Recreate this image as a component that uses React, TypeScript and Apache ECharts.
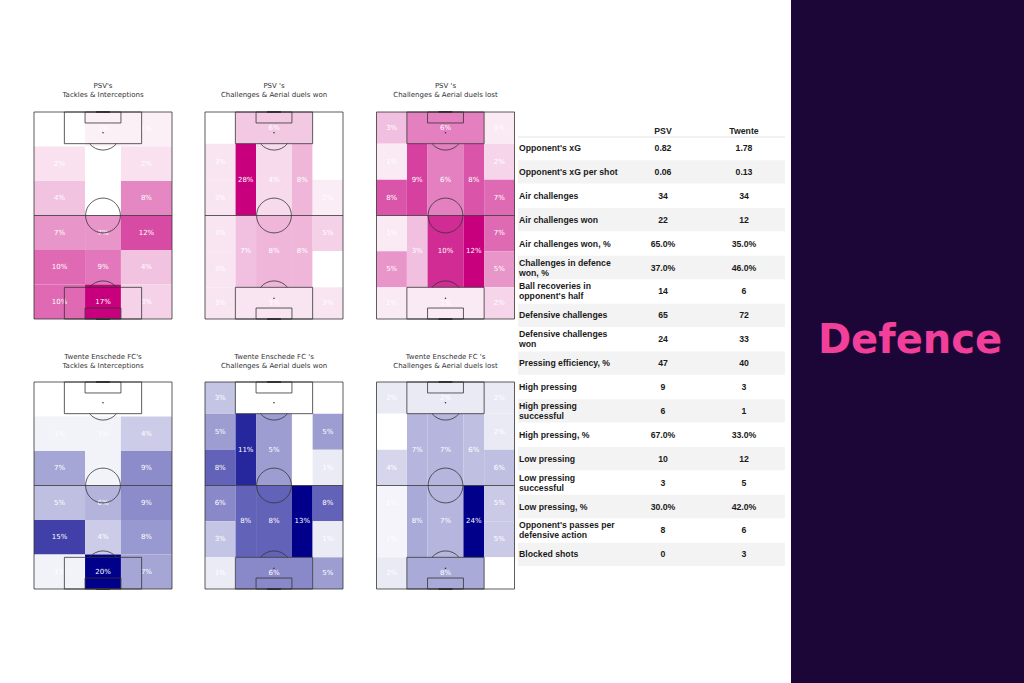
import React, { useEffect, useRef } from 'react';
import * as echarts from 'echarts';

// ---------- Data ----------
// 3x6 grids, row-major from the top of the pitch (left, centre, right)
const PSV_TACKLES = [0, 1, 1, 2, 0, 2, 4, 0, 8, 7, 7, 12, 10, 9, 4, 10, 17, 3];
const TWENTE_TACKLES = [0, 0, 0, 1, 1, 4, 7, 1, 9, 5, 6, 9, 15, 4, 8, 1, 20, 7];

// 20-zone grids: [topBox, bottomBox, upper L/C/R, lower L/C/R, left wing x6, right wing x6]
const PSV_WON = [6, 3, 28, 4, 8, 7, 8, 8, 0, 3, 3, 3, 3, 3, 0, 0, 2, 5, 0, 3];
const PSV_LOST = [6, 1, 9, 6, 8, 3, 10, 12, 3, 1, 8, 1, 5, 1, 1, 2, 7, 7, 5, 2];
const TWENTE_WON = [0, 6, 11, 5, 0, 8, 8, 13, 3, 5, 8, 6, 3, 1, 0, 5, 1, 8, 1, 5];
const TWENTE_LOST = [2, 8, 7, 7, 6, 8, 7, 24, 2, 0, 4, 1, 1, 2, 2, 2, 6, 5, 5, 0];

const PITCH_TITLES = [
  ["PSV's", 'Tackles & Interceptions'],
  ["PSV 's", 'Challenges & Aerial duels won'],
  ["PSV 's", 'Challenges & Aerial duels lost'],
  ["Twente Enschede FC's", 'Tackles & Interceptions'],
  ["Twente Enschede FC 's", 'Challenges & Aerial duels won'],
  ["Twente Enschede FC 's", 'Challenges & Aerial duels lost'],
];

const TABLE_HEADERS = ['PSV', 'Twente'];
const TABLE_LABELS = [
  "Opponent's xG",
  "Opponent's xG per shot",
  'Air challenges',
  'Air challenges won',
  'Air challenges won, %',
  'Challenges in defence\nwon, %',
  "Ball recoveries in\nopponent's half",
  'Defensive challenges',
  'Defensive challenges\nwon',
  'Pressing efficiency, %',
  'High pressing',
  'High pressing\nsuccessful',
  'High pressing, %',
  'Low pressing',
  'Low pressing\nsuccessful',
  'Low pressing, %',
  "Opponent's passes per\ndefensive action",
  'Blocked shots',
];
const PSV_STATS = ['0.82', '0.06', '34', '22', '65.0%', '37.0%', '14', '65', '24', '47', '9', '6', '67.0%', '10', '3', '30.0%', '8', '0'];
const TWENTE_STATS = ['1.78', '0.13', '34', '12', '35.0%', '46.0%', '6', '72', '33', '40', '3', '1', '33.0%', '12', '5', '42.0%', '6', '3'];

const PANEL_TITLE = 'Defence';

// ---------- Pitch geometry (0..100 across, 0..100 along) ----------
const G3X = [0, 37, 63, 100];
const G3Y = [0, 16.67, 33.33, 50, 66.67, 83.33, 100];
const X5 = [0, 22, 37, 63, 78, 100];
const WY = [0, 15.3, 32.7, 50, 67.3, 84.7, 100];

function zones3(): number[][] {
  const z: number[][] = [];
  for (let r = 0; r < 6; r++) for (let c = 0; c < 3; c++) z.push([G3X[c], G3X[c + 1], G3Y[r], G3Y[r + 1]]);
  return z;
}
function zones20(): number[][] {
  const z: number[][] = [];
  z.push([X5[1], X5[4], 0, WY[1]]);
  z.push([X5[1], X5[4], WY[5], 100]);
  for (let c = 1; c < 4; c++) z.push([X5[c], X5[c + 1], WY[1], 50]);
  for (let c = 1; c < 4; c++) z.push([X5[c], X5[c + 1], 50, WY[5]]);
  for (let r = 0; r < 6; r++) z.push([0, X5[1], WY[r], WY[r + 1]]);
  for (let r = 0; r < 6; r++) z.push([X5[4], 100, WY[r], WY[r + 1]]);
  return z;
}

const PSV_BASE = [200, 0, 126];
const TWENTE_BASE = [0, 0, 139];

function mix(base: number[], t: number) {
  const c = base.map((b) => Math.round(255 - (255 - b) * t));
  return `rgb(${c[0]},${c[1]},${c[2]})`;
}

const PITCHES = [
  { values: PSV_TACKLES, zones: zones3(), base: PSV_BASE },
  { values: PSV_WON, zones: zones20(), base: PSV_BASE },
  { values: PSV_LOST, zones: zones20(), base: PSV_BASE },
  { values: TWENTE_TACKLES, zones: zones3(), base: TWENTE_BASE },
  { values: TWENTE_WON, zones: zones20(), base: TWENTE_BASE },
  { values: TWENTE_LOST, zones: zones20(), base: TWENTE_BASE },
];

const GRID_LEFT = [34, 205, 376.5];
const GRID_TOP = [112, 382];
const GRID_W = 138;
const GRID_H = 207;

const LINE = '#333';
const FONT_SANS = '"DejaVu Sans", sans-serif';
const FONT_TABLE = 'bold 8.7px "Liberation Sans", Arial, sans-serif';

function pitchLinesRender(params: any, api: any) {
  const c = (x: number, y: number) => api.coord([x, y]);
  const seg = (a: number[], b: number[], w = 0.8) => ({
    type: 'line',
    shape: { x1: a[0], y1: a[1], x2: b[0], y2: b[1] },
    style: { stroke: LINE, lineWidth: w },
  });
  const rect = (x0: number, x1: number, y0: number, y1: number) => {
    const p0 = c(x0, y0);
    const p1 = c(x1, y1);
    return {
      type: 'rect',
      shape: { x: p0[0], y: p0[1], width: p1[0] - p0[0], height: p1[1] - p0[1] },
      style: { fill: 'none', stroke: LINE, lineWidth: 0.8 },
    };
  };
  const r = api.size([12.6, 0])[0];
  const center = c(50, 50);
  const spotTop = c(50, 10);
  const spotBot = c(50, 90);
  const boxTop = c(50, 15.3);
  const d = boxTop[1] - spotTop[1];
  const th = Math.acos(Math.min(1, d / r));
  const children: any[] = [
    rect(0, 100, 0, 100),
    seg(c(0, 50), c(100, 50)),
    rect(22, 78, 0, 15.3),
    rect(37, 63, 0, 5.3),
    rect(22, 78, 84.7, 100),
    rect(37, 63, 94.7, 100),
    { type: 'circle', shape: { cx: center[0], cy: center[1], r }, style: { fill: 'none', stroke: LINE, lineWidth: 0.8 } },
    {
      type: 'arc',
      shape: { cx: spotTop[0], cy: spotTop[1], r, startAngle: Math.PI / 2 - th, endAngle: Math.PI / 2 + th, clockwise: true },
      style: { fill: 'none', stroke: LINE, lineWidth: 0.8 },
    },
    {
      type: 'arc',
      shape: { cx: spotBot[0], cy: spotBot[1], r, startAngle: -Math.PI / 2 - th, endAngle: -Math.PI / 2 + th, clockwise: true },
      style: { fill: 'none', stroke: LINE, lineWidth: 0.8 },
    },
    { type: 'circle', shape: { cx: spotTop[0], cy: spotTop[1], r: 0.7 }, style: { fill: LINE } },
    { type: 'circle', shape: { cx: spotBot[0], cy: spotBot[1], r: 0.7 }, style: { fill: LINE } },
    seg(c(45, 0), c(55, 0), 2),
    seg(c(45, 100), c(55, 100), 2),
  ];
  return { type: 'group', children };
}

function buildOption() {
  const grid: any[] = [];
  const xAxis: any[] = [];
  const yAxis: any[] = [];
  const series: any[] = [];
  const graphic: any[] = [];

  PITCHES.forEach((p, i) => {
    const row = Math.floor(i / 3);
    const col = i % 3;
    grid.push({ left: GRID_LEFT[col], top: GRID_TOP[row], width: GRID_W, height: GRID_H });
    xAxis.push({ type: 'value', min: 0, max: 100, show: false, gridIndex: i });
    yAxis.push({ type: 'value', min: 0, max: 100, inverse: true, show: false, gridIndex: i });
    const max = Math.max(...p.values);
    const data = p.zones.map((z, k) => [z[0], z[1], z[2], z[3], p.values[k]]);
    series.push({
      type: 'custom',
      xAxisIndex: i,
      yAxisIndex: i,
      z: 1,
      silent: true,
      data,
      renderItem: (params: any, api: any) => {
        const v = api.value(4);
        const p0 = api.coord([api.value(0), api.value(2)]);
        const p1 = api.coord([api.value(1), api.value(3)]);
        return {
          type: 'group',
          children: [
            {
              type: 'rect',
              shape: { x: p0[0], y: p0[1], width: p1[0] - p0[0], height: p1[1] - p0[1] },
              style: { fill: mix(p.base, v / max), stroke: 'none' },
            },
            {
              type: 'text',
              z2: 5,
              style: {
                text: `${v}%`,
                x: (p0[0] + p1[0]) / 2,
                y: (p0[1] + p1[1]) / 2,
                align: 'center',
                verticalAlign: 'middle',
                fill: '#ffffff',
                font: `7px ${FONT_SANS}`,
              },
            },
          ],
        };
      },
    });
    series.push({
      type: 'custom',
      xAxisIndex: i,
      yAxisIndex: i,
      z: 3,
      silent: true,
      data: [[0]],
      renderItem: pitchLinesRender,
    });
    const cx = GRID_LEFT[col] + GRID_W / 2;
    const ty = row === 0 ? 90 : 361.5;
    graphic.push({
      type: 'text',
      x: cx,
      y: ty,
      style: {
        text: PITCH_TITLES[i].join('\n'),
        align: 'center',
        verticalAlign: 'middle',
        lineHeight: 9,
        fill: '#333',
        font: `7px ${FONT_SANS}`,
      },
    });
  });

  // Table
  const TX0 = 518;
  const TW = 267;
  const ROW0 = 148;
  const RH = 23.9;
  const COLX = [663, 744];
  graphic.push({ type: 'line', shape: { x1: TX0, y1: 137, x2: TX0 + TW, y2: 137 }, style: { stroke: '#e4e4e4', lineWidth: 1 } });
  TABLE_HEADERS.forEach((h, j) => {
    graphic.push({
      type: 'text',
      x: COLX[j],
      y: 131,
      style: { text: h, align: 'center', verticalAlign: 'middle', fill: '#222', font: FONT_TABLE },
    });
  });
  TABLE_LABELS.forEach((lab, k) => {
    const y = ROW0 + k * RH;
    if (k % 2 === 1) {
      graphic.push({
        type: 'rect',
        shape: { x: TX0, y: y - RH / 2 + 0.3, width: TW, height: RH - 0.6 },
        style: { fill: '#f3f3f3' },
        z: -1,
      });
    }
    graphic.push({
      type: 'text',
      x: 519,
      y,
      style: { text: lab, align: 'left', verticalAlign: 'middle', lineHeight: 10, fill: '#1a1a1a', font: FONT_TABLE },
    });
    [PSV_STATS[k], TWENTE_STATS[k]].forEach((v, j) => {
      graphic.push({
        type: 'text',
        x: COLX[j],
        y,
        style: { text: v, align: 'center', verticalAlign: 'middle', fill: '#1a1a1a', font: FONT_TABLE },
      });
    });
  });

  // Right panel
  graphic.push({ type: 'rect', shape: { x: 791, y: 0, width: 233, height: 683 }, style: { fill: '#1c0637' } });
  graphic.push({
    type: 'text',
    x: 910,
    y: 339,
    style: {
      text: PANEL_TITLE,
      align: 'center',
      verticalAlign: 'middle',
      fill: '#f2409a',
      font: 'bold 40px "DejaVu Sans", sans-serif',
    },
  });

  return {
    animation: false,
    backgroundColor: '#ffffff',
    grid,
    xAxis,
    yAxis,
    series,
    graphic,
  };
}

export default function App() {
  const ref = useRef<HTMLDivElement>(null);
  useEffect(() => {
    if (!ref.current) return;
    const chart = echarts.init(ref.current, null, { renderer: 'svg' });
    chart.setOption(buildOption() as any);
    return () => chart.dispose();
  }, []);
  return <div ref={ref} style={{ position: 'absolute', left: 0, top: 0, width: 1024, height: 683 }} />;
}
